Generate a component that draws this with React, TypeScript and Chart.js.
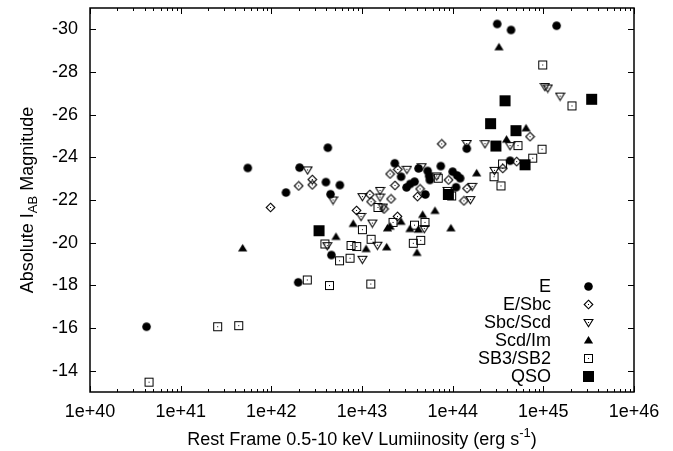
import { useEffect, useRef } from 'react';
import { Chart, registerables } from 'chart.js';

Chart.register(...registerables);

const FONT = '"Liberation Sans", Arial, Helvetica, sans-serif';

const seriesLabels = ['E', 'E/Sbc', 'Sbc/Scd', 'Scd/Im', 'SB3/SB2', 'QSO'];

const eLum = [4.2e40, 5.5e41, 1.45e42, 2.05e42, 4.2e42, 4.0e42, 4.5e42, 5.7e42, 1.98e42, 4.6e42, 2.3e43, 2.7e43, 3.1e43, 3.4e43, 4.2e43, 3.8e43, 5.3e43, 5.5e43, 5.6e43, 5.0e43, 7.4e43, 1.0e44, 1.12e44, 1.21e44, 1.09e44, 1.43e44, 4.3e44, 3.1e44, 4.4e44, 1.4e45];
const eMag = [-16.06, -23.5, -22.35, -23.52, -24.45, -22.84, -22.27, -22.7, -18.14, -19.42, -23.72, -23.09, -22.59, -22.75, -23.48, -22.86, -23.36, -23.13, -22.94, -22.26, -23.59, -23.33, -23.15, -23.02, -22.6, -24.41, -23.84, -30.25, -29.97, -30.17];

const esbcLum = [9.8e41, 2.0e42, 2.83e42, 2.83e42, 8.7e42, 1.22e43, 1.26e43, 2.09e43, 1.75e43, 2.46e43, 2.04e43, 2.48e43, 2.31e43, 4.37e43, 4.09e43, 9.0e43, 7.57e43, 1.44e44, 1.33e44, 3.57e44, 5.08e44, 7.13e44];
const esbcMag = [-21.65, -22.66, -22.96, -22.71, -21.51, -22.26, -21.92, -22.05, -21.58, -21.23, -23.22, -23.43, -22.68, -22.52, -22.16, -22.94, -24.63, -22.54, -21.96, -23.48, -23.8, -24.97];

const sbcLum = [2.51e42, 4.79e42, 1.01e43, 1.58e43, 1.58e43, 1.7e43, 9.75e42, 1.3e43, 4.14e42, 1.01e43, 1.48e43, 3.13e43, 4.55e43, 6.67e43, 8.77e43, 4.86e43, 1.43e44, 1.64e44, 1.57e44, 2.27e44, 2.89e44, 4.29e44, 1.04e45, 1.12e45, 1.53e45];
const sbcMag = [-23.41, -22.0, -22.16, -22.45, -22.14, -21.67, -21.23, -20.92, -19.86, -19.22, -19.88, -23.44, -23.56, -23.13, -22.45, -20.66, -24.65, -22.64, -22.02, -24.64, -23.39, -24.55, -27.32, -27.25, -26.87];

const scdLum = [4.83e41, 5.16e42, 8.0e42, 1.11e43, 1.87e43, 2.04e43, 1.91e43, 2.69e43, 3.38e43, 4.18e43, 4.67e43, 6.38e43, 9.57e43, 4.04e43, 1.84e44, 3.93e44, 6.44e44, 3.24e44];
const scdMag = [-19.73, -20.27, -20.88, -19.7, -19.78, -20.75, -20.67, -20.98, -20.64, -20.61, -21.3, -21.49, -20.67, -19.52, -23.25, -24.83, -25.36, -29.16];

const sbLum = [4.48e40, 2.56e41, 4.37e41, 2.49e42, 4.38e42, 3.9e42, 5.65e42, 7.38e42, 7.57e42, 8.75e42, 1.01e43, 1.26e43, 1.25e43, 1.5e43, 2.2e43, 3.79e43, 4.95e43, 3.68e43, 4.44e43, 6.93e43, 9.75e43, 3.55e44, 2.86e44, 3.41e44, 7.64e44, 9.67e44, 5.25e44, 9.84e44, 2.07e45];
const sbMag = [-13.46, -16.06, -16.11, -18.25, -17.99, -19.94, -19.15, -19.27, -19.87, -19.82, -20.61, -20.16, -18.06, -21.65, -20.95, -20.82, -20.95, -19.97, -20.11, -23.02, -22.19, -23.69, -23.09, -22.66, -23.96, -24.38, -24.55, -28.33, -26.41];

const qsoLum = [3.36e42, 8.96e43, 3.0e44, 2.62e44, 3.78e44, 4.99e44, 6.28e44, 3.41e45];
const qsoMag = [-20.56, -22.26, -24.53, -25.58, -26.65, -25.25, -23.65, -26.72];

const xTickValues = [1e40, 1e41, 1e42, 1e43, 1e44, 1e45, 1e46];
const xTickLabels = ['1e+40', '1e+41', '1e+42', '1e+43', '1e+44', '1e+45', '1e+46'];
const yTickValues = [-30, -28, -26, -24, -22, -20, -18, -16, -14];

const markerKinds = ['circle', 'diamond', 'triDown', 'triUp', 'box', 'qso'];

function makeMarker(kind: string): HTMLCanvasElement {
  const c = document.createElement('canvas');
  const s = kind === 'qso' ? 13 : 11;
  c.width = s;
  c.height = s;
  const g = c.getContext('2d')!;
  const m = s / 2;
  g.fillStyle = '#000';
  g.strokeStyle = '#000';
  g.lineWidth = 1.1;
  const dot = () => g.fillRect(m - 0.5, m - 0.5, 1, 1);
  if (kind === 'circle') {
    g.beginPath();
    g.arc(m, m, 4.3, 0, Math.PI * 2);
    g.fill();
  } else if (kind === 'diamond') {
    g.beginPath();
    g.moveTo(m, m - 4.3);
    g.lineTo(m + 4.3, m);
    g.lineTo(m, m + 4.3);
    g.lineTo(m - 4.3, m);
    g.closePath();
    g.stroke();
    dot();
  } else if (kind === 'triDown') {
    g.beginPath();
    g.moveTo(m - 4.4, m - 3);
    g.lineTo(m + 4.4, m - 3);
    g.lineTo(m, m + 4.2);
    g.closePath();
    g.stroke();
    dot();
  } else if (kind === 'triUp') {
    g.beginPath();
    g.moveTo(m - 4.6, m + 3);
    g.lineTo(m + 4.6, m + 3);
    g.lineTo(m, m - 4.6);
    g.closePath();
    g.fill();
  } else if (kind === 'box') {
    g.lineWidth = 1;
    g.strokeRect(m - 4, m - 4, 8, 8);
    dot();
  } else {
    g.fillRect(1, 1, 11, 11);
  }
  return c;
}

const gnuplotPlugin = {
  id: 'gnuplotFrame',
  afterDraw(chart: any) {
    const { ctx, chartArea: a, scales } = chart;
    const xs = scales.x;
    const ys = scales.y;
    ctx.save();
    ctx.strokeStyle = '#000';
    ctx.lineWidth = 1;
    ctx.beginPath();
    for (let e = 40; e <= 46; e++) {
      for (let k = 1; k <= 9; k++) {
        if (e === 46 && k > 1) break;
        const v = k * Math.pow(10, e);
        const px = Math.round(xs.getPixelForValue(v)) + 0.5;
        const len = k === 1 ? 6 : 3;
        ctx.moveTo(px, a.bottom);
        ctx.lineTo(px, a.bottom - len);
        ctx.moveTo(px, a.top);
        ctx.lineTo(px, a.top + len);
      }
    }
    for (const v of yTickValues) {
      const py = Math.round(ys.getPixelForValue(v)) + 0.5;
      ctx.moveTo(a.left, py);
      ctx.lineTo(a.left + 6, py);
      ctx.moveTo(a.right, py);
      ctx.lineTo(a.right - 6, py);
    }
    ctx.stroke();
    ctx.lineWidth = 1.5;
    ctx.strokeRect(a.left, a.top, a.right - a.left, a.bottom - a.top);

    // legend
    ctx.fillStyle = '#000';
    ctx.font = '18px ' + FONT;
    ctx.textAlign = 'right';
    ctx.textBaseline = 'middle';
    chart.data.datasets.forEach((ds: any, i: number) => {
      const ry = 286 + i * 18.1;
      ctx.fillText(ds.label, 551, ry + 1);
      const img = ds.pointStyle as HTMLCanvasElement;
      ctx.drawImage(img, Math.round(588 - img.width / 2), Math.round(ry - img.height / 2));
    });

    // x axis title
    const cx = (a.left + a.right) / 2;
    ctx.textAlign = 'left';
    ctx.textBaseline = 'alphabetic';
    const main = 'Rest Frame 0.5-10 keV Lumiinosity (erg s';
    ctx.font = '18px ' + FONT;
    const w1 = ctx.measureText(main).width;
    ctx.font = '13px ' + FONT;
    const w2 = ctx.measureText('-1').width;
    ctx.font = '18px ' + FONT;
    const w3 = ctx.measureText(')').width;
    let sx = cx - (w1 + w2 + w3) / 2;
    const by = 445;
    ctx.fillText(main, sx, by);
    sx += w1;
    ctx.font = '13px ' + FONT;
    ctx.fillText('-1', sx, by - 8);
    sx += w2;
    ctx.font = '18px ' + FONT;
    ctx.fillText(')', sx, by);

    // y axis title (rotated)
    ctx.save();
    ctx.translate(33, (a.top + a.bottom) / 2);
    ctx.rotate(-Math.PI / 2);
    const p1 = 'Absolute I';
    const p2 = 'AB';
    const p3 = ' Magnitude';
    ctx.font = '18px ' + FONT;
    const q1 = ctx.measureText(p1).width;
    const q3 = ctx.measureText(p3).width;
    ctx.font = '13px ' + FONT;
    const q2 = ctx.measureText(p2).width;
    let tx = -(q1 + q2 + q3) / 2;
    ctx.font = '18px ' + FONT;
    ctx.fillText(p1, tx, 0);
    tx += q1;
    ctx.font = '13px ' + FONT;
    ctx.fillText(p2, tx, 4);
    tx += q2;
    ctx.font = '18px ' + FONT;
    ctx.fillText(p3, tx, 0);
    ctx.restore();

    ctx.restore();
  },
};

export default function App() {
  const ref = useRef<HTMLCanvasElement | null>(null);

  useEffect(() => {
    if (!ref.current) return;
    const lums = [eLum, esbcLum, sbcLum, scdLum, sbLum, qsoLum];
    const mags = [eMag, esbcMag, sbcMag, scdMag, sbMag, qsoMag];
    const datasets = seriesLabels.map((label, i) => ({
      label,
      data: lums[i].map((x, j) => ({ x, y: mags[i][j] })),
      pointStyle: makeMarker(markerKinds[i]),
      pointRadius: 5,
      pointHoverRadius: 5,
      showLine: false,
      backgroundColor: '#000',
      borderColor: '#000',
    }));
    const tickFont = { family: FONT, size: 18 };
    const chart = new Chart(ref.current, {
      type: 'scatter',
      data: { datasets },
      options: {
        animation: false,
        responsive: false,
        events: [],
        layout: { padding: { top: 8, right: 39, left: 0, bottom: 0 } },
        plugins: { legend: { display: false }, tooltip: { enabled: false } },
        scales: {
          x: {
            type: 'logarithmic',
            min: 1e40,
            max: 1e46,
            grid: { display: false, drawTicks: false },
            border: { display: false },
            afterBuildTicks: (s: any) => {
              s.ticks = xTickValues.map((v) => ({ value: v }));
            },
            afterFit: (s: any) => {
              s.height = 59;
              s.paddingLeft = 0;
              s.paddingRight = 0;
            },
            ticks: {
              autoSkip: false,
              maxRotation: 0,
              minRotation: 0,
              padding: 9,
              color: '#000',
              font: tickFont,
              callback: (v: any) => {
                const idx = xTickValues.findIndex((t) => Math.abs(Math.log10(t) - Math.log10(Number(v))) < 1e-6);
                return idx >= 0 ? xTickLabels[idx] : '';
              },
            },
          },
          y: {
            type: 'linear',
            reverse: true,
            min: -31,
            max: -13,
            grid: { display: false, drawTicks: false },
            border: { display: false },
            afterBuildTicks: (s: any) => {
              s.ticks = yTickValues.map((v) => ({ value: v }));
            },
            afterFit: (s: any) => {
              s.width = 90;
              s.paddingTop = 0;
              s.paddingBottom = 0;
            },
            ticks: {
              padding: 12,
              color: '#000',
              font: tickFont,
              callback: (v: any) => String(v),
            },
          },
        },
      },
      plugins: [gnuplotPlugin],
    });
    return () => chart.destroy();
  }, []);

  return (
    <div style={{ position: 'fixed', left: 0, top: 0, width: 673, height: 451, background: '#fff' }}>
      <canvas ref={ref} width={673} height={451} />
    </div>
  );
}
